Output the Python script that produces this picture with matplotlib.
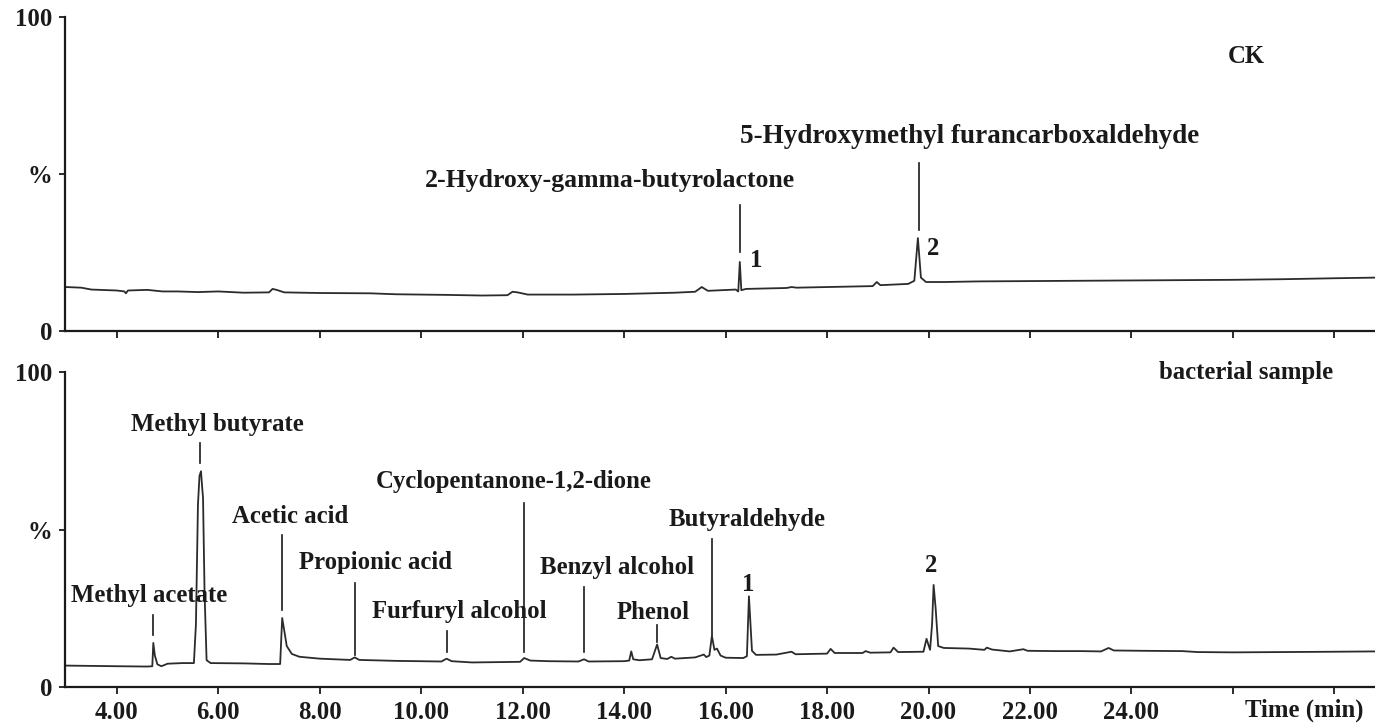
import matplotlib

matplotlib.use("Agg")
import matplotlib.pyplot as plt

plt.rcParams["font.family"] = ["Liberation Serif", "DejaVu Serif"]
plt.rcParams["font.weight"] = "bold"

# retention time (min) and relative intensity (%)
ck_time = [3.0, 3.3, 3.5, 4.0, 4.15, 4.18, 4.22, 4.6, 4.9, 5.2, 5.6, 6.0, 6.5, 7.0, 7.07, 7.15, 7.3,
           8.0, 9.0, 9.5, 10.5, 11.2, 11.7, 11.8, 11.9, 12.1, 13.0, 14.0, 14.5, 15.0, 15.4, 15.53,
           15.65, 16.2, 16.25, 16.28, 16.31, 16.4, 17.2, 17.3, 17.4, 18.9, 18.98, 19.05, 19.6, 19.72,
           19.79, 19.85, 19.95, 20.3, 21.0, 22.0, 23.0, 24.0, 25.0, 26.0, 27.0, 28.0, 28.8]
ck_signal = [14.0, 13.8, 13.2, 12.9, 12.6, 12.0, 12.9, 13.1, 12.6, 12.6, 12.4, 12.6, 12.2, 12.3, 13.4,
             13.1, 12.3, 12.1, 12.0, 11.7, 11.5, 11.3, 11.4, 12.5, 12.3, 11.6, 11.6, 11.8, 12.0, 12.2,
             12.5, 14.0, 12.8, 13.2, 12.6, 22.0, 13.0, 13.4, 13.7, 14.0, 13.8, 14.3, 15.6, 14.6, 15.0,
             16.0, 29.6, 17.0, 15.6, 15.6, 15.8, 15.9, 16.0, 16.1, 16.2, 16.3, 16.5, 16.8, 17.0]

bac_time = [3.0, 4.0, 4.6, 4.7, 4.72, 4.75, 4.8, 4.88, 5.0, 5.3, 5.52, 5.56, 5.6, 5.63, 5.66, 5.68,
            5.7, 5.73, 5.77, 5.85, 6.5, 7.0, 7.22, 7.26, 7.3, 7.35, 7.45, 7.6, 8.0, 8.6, 8.69, 8.78,
            9.5, 10.4, 10.5, 10.6, 11.0, 11.5, 11.95, 12.03, 12.15, 12.5, 13.1, 13.21, 13.3, 14.0,
            14.1, 14.14, 14.18, 14.3, 14.55, 14.65, 14.72, 14.85, 14.93, 15.0, 15.4, 15.57, 15.62,
            15.68, 15.73, 15.78, 15.83, 15.9, 16.0, 16.35, 16.42, 16.46, 16.52, 16.6, 17.0, 17.3,
            17.38, 18.0, 18.07, 18.15, 18.7, 18.76, 18.85, 19.25, 19.31, 19.4, 19.9, 19.96, 20.03,
            20.07, 20.1, 20.14, 20.19, 20.3, 20.8, 21.1, 21.15, 21.25, 21.6, 21.87, 21.95, 22.5,
            23.0, 23.4, 23.55, 23.65, 24.2, 25.0, 25.3, 26.0, 27.0, 28.0, 28.8]
bac_signal = [6.8, 6.6, 6.5, 6.6, 14.0, 10.0, 7.2, 6.6, 7.4, 7.6, 7.6, 20.0, 58.0, 67.0, 68.5, 64.0,
              60.0, 30.0, 8.5, 7.6, 7.5, 7.3, 7.3, 21.9, 18.0, 13.0, 10.5, 9.6, 9.0, 8.6, 9.4, 8.6,
              8.3, 8.1, 9.0, 8.2, 7.8, 7.9, 8.0, 9.2, 8.4, 8.2, 8.1, 8.8, 8.1, 8.2,
              8.4, 11.3, 8.8, 8.5, 8.8, 13.5, 9.2, 8.9, 9.6, 9.0, 9.4, 10.3, 9.5,
              10.0, 16.2, 11.8, 12.2, 10.0, 9.3, 9.2, 9.8, 28.8, 11.5, 10.2, 10.3, 11.2,
              10.4, 10.6, 12.1, 10.8, 10.8, 11.4, 10.9, 11.0, 12.5, 11.1, 11.2, 15.3, 11.8,
              20.0, 32.4, 25.0, 13.0, 12.4, 12.2, 11.8, 12.5, 11.9, 11.3, 12.0, 11.5, 11.4,
              11.4, 11.3, 12.4, 11.6, 11.5, 11.4, 11.1, 11.0, 11.1, 11.2, 11.3]

ck_names = ["2-Hydroxy-gamma-butyrolactone", "5-Hydroxymethyl furancarboxaldehyde"]
ck_rt = [16.28, 19.81]
bac_names = ["Methyl acetate", "Methyl butyrate", "Acetic acid", "Propionic acid",
             "Furfuryl alcohol", "Cyclopentanone-1,2-dione", "Benzyl alcohol", "Phenol",
             "Butyraldehyde"]
bac_rt = [4.72, 5.65, 7.26, 8.69, 10.5, 12.02, 13.21, 14.65, 15.73]

x_ticks = [4, 6, 8, 10, 12, 14, 16, 18, 20, 22, 24, 26, 28]
x_labels = ["4.00", "6.00", "8.00", "10.00", "12.00", "14.00", "16.00", "18.00", "20.00",
            "22.00", "24.00", "", ""]

# layout: (text x, text y, leader top, leader bottom, font size)
FS = 17.8
ck_layout = [(13.72, 47.8, 40.1, 25.2, 18.5), (20.81, 61.8, 53.5, 32.2, 19.5)]
bac_layout = [(4.63, 28.9, 22.9, 16.5, FS), (5.99, 83.2, 77.5, 71.1, FS), (7.41, 54.0, 48.3, 24.4, FS),
              (9.10, 39.4, 33.0, 10.2, FS), (10.75, 24.1, 17.8, 11.1, FS), (11.83, 65.1, 58.4, 11.1, FS),
              (13.86, 37.8, 31.7, 11.1, FS), (14.57, 23.5, 19.7, 14.3, FS), (16.42, 53.3, 47.0, 16.5, FS)]

INK = "#1a1a1a"

fig = plt.figure(figsize=(13.75, 7.27), dpi=100)
ax_top = fig.add_axes([0.0473, 0.5447, 0.9527, 0.4319])
ax_bot = fig.add_axes([0.0473, 0.055, 0.9527, 0.4333])

for ax in (ax_top, ax_bot):
    ax.set_xlim(2.98, 28.8)
    ax.set_ylim(0, 100)
    ax.spines["top"].set_visible(False)
    ax.spines["right"].set_visible(False)
    ax.spines["left"].set_linewidth(1.6)
    ax.spines["bottom"].set_linewidth(1.6)
    ax.spines["left"].set_color(INK)
    ax.spines["bottom"].set_color(INK)
    ax.set_yticks([0, 50, 100])
    ax.set_yticklabels(["0", "%", "100"])
    ax.set_xticks(x_ticks)
    ax.tick_params(axis="y", direction="out", length=4, width=1.3, pad=5, labelsize=FS, colors=INK)
    ax.tick_params(axis="x", direction="out", length=5, width=1.3, pad=5, labelsize=FS, colors=INK)
    ax.set_facecolor("none")

ax_top.set_xticklabels([])
ax_bot.set_xticklabels(x_labels)

ax_top.plot(ck_time, ck_signal, color="#2b2b2b", linewidth=1.3)
ax_bot.plot(bac_time, bac_signal, color="#2b2b2b", linewidth=1.3)

for name, rt, (tx, ty, l_top, l_bot, fs) in zip(ck_names, ck_rt, ck_layout):
    ax_top.text(tx, ty, name, ha="center", va="center", fontsize=fs, fontweight="bold", color=INK)
    ax_top.plot([rt, rt], [l_bot, l_top], color=INK, linewidth=1.2)
for name, rt, (tx, ty, l_top, l_bot, fs) in zip(bac_names, bac_rt, bac_layout):
    ax_bot.text(tx, ty, name, ha="center", va="center", fontsize=fs, fontweight="bold", color=INK)
    ax_bot.plot([rt, rt], [l_bot, l_top], color=INK, linewidth=1.2)

ax_top.text(16.6, 22.6, "1", ha="center", va="center", fontsize=FS, fontweight="bold", color=INK)
ax_top.text(20.1, 26.4, "2", ha="center", va="center", fontsize=FS, fontweight="bold", color=INK)
ax_bot.text(16.44, 32.4, "1", ha="center", va="center", fontsize=FS, fontweight="bold", color=INK)
ax_bot.text(20.06, 38.7, "2", ha="center", va="center", fontsize=FS, fontweight="bold", color=INK)

ax_top.text(26.26, 87.3, "CK", ha="center", va="center", fontsize=FS, fontweight="bold", color=INK)
ax_bot.text(26.26, 100, "bacterial sample", ha="center", va="center", fontsize=FS,
            fontweight="bold", color=INK, clip_on=False)
ax_bot.text(27.4, -7.3, "Time (min)", ha="center", va="center", fontsize=FS, fontweight="bold",
            color=INK, clip_on=False)

fig.savefig("out.png", dpi=100)
